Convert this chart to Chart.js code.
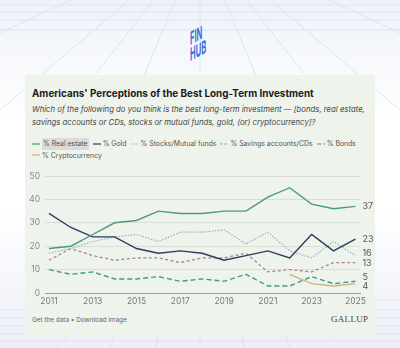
<!DOCTYPE html>
<html><head><meta charset="utf-8">
<script src="https://cdn.jsdelivr.net/npm/chart.js@4"></script>
<style>
html,body{margin:0;padding:0;}
body{width:400px;height:348px;position:relative;overflow:hidden;background:linear-gradient(180deg,#eef2f8 0%,#ffffff 35%,#ffffff 60%,#eceff8 100%);font-family:Inter,"Noto Sans",sans-serif;}
#bg{position:absolute;left:0;top:0;}
#logo{position:absolute;left:182px;top:8px;width:36px;height:54px;}
#panel{position:absolute;left:25px;top:75px;width:350px;height:260px;background:#eef3ec;}
#title{position:absolute;left:32px;top:87px;font-size:9.9px;font-weight:700;color:#1b1b1b;white-space:nowrap;}
#sub{position:absolute;left:32px;top:103px;width:340px;font-size:7.75px;font-style:italic;color:#444;line-height:13px;}
#legend{position:absolute;left:32px;top:138px;width:335px;display:flex;flex-wrap:wrap;column-gap:4px;row-gap:0;}
.leg{font-size:6.9px;line-height:11.5px;color:#555;white-space:nowrap;display:flex;align-items:center;}
.leg svg{margin-right:2px;}
#foot{position:absolute;left:32px;top:316px;font-size:6.4px;color:#666;}
#gallup{position:absolute;left:331px;top:314px;font-family:"Liberation Serif","DejaVu Serif",serif;font-size:9px;color:#444;letter-spacing:0.3px;}
#wrap{position:absolute;left:25px;top:165px;width:350px;height:145px;}
</style></head>
<body>
<svg id="bg" width="400" height="348">
  <g stroke="#d9e0ee" stroke-width="0.8" fill="none">
    <line x1="200" y1="-60" x2="-80" y2="70"/><line x1="200" y1="-60" x2="0" y2="110"/>
    <line x1="200" y1="-60" x2="60" y2="120"/><line x1="200" y1="-60" x2="130" y2="110"/>
    <line x1="200" y1="-60" x2="200" y2="100"/><line x1="200" y1="-60" x2="270" y2="110"/>
    <line x1="200" y1="-60" x2="340" y2="120"/><line x1="200" y1="-60" x2="400" y2="110"/>
    <line x1="200" y1="-60" x2="480" y2="70"/>
    <line x1="0" y1="5" x2="400" y2="5"/><line x1="0" y1="12" x2="400" y2="12"/>
    <line x1="0" y1="20" x2="400" y2="20"/><line x1="0" y1="30" x2="400" y2="30"/>
    <line x1="0" y1="310" x2="25" y2="310"/><line x1="0" y1="318" x2="25" y2="318"/>
    <line x1="0" y1="326" x2="25" y2="326"/><line x1="0" y1="334" x2="400" y2="334"/>
    <line x1="0" y1="341" x2="400" y2="341"/><line x1="375" y1="300" x2="400" y2="300"/>
    <line x1="375" y1="310" x2="400" y2="310"/><line x1="375" y1="318" x2="400" y2="318"/>
    <line x1="375" y1="326" x2="400" y2="326"/>
    <line x1="70" y1="335" x2="55" y2="348"/><line x1="115" y1="335" x2="110" y2="348"/>
    <line x1="158" y1="335" x2="156" y2="348"/><line x1="200" y1="335" x2="200" y2="348"/>
    <line x1="242" y1="335" x2="244" y2="348"/><line x1="285" y1="335" x2="290" y2="348"/>
    <line x1="330" y1="335" x2="345" y2="348"/>
  </g>
</svg>
<svg id="logo" viewBox="0 0 36 54">
  <g fill="#3a6fd9" font-family="Inter,'DejaVu Sans',sans-serif" font-weight="700">
    <text x="0" y="0" font-size="18" transform="translate(8,37) skewY(-28) scale(0.42,1)">FIN</text>
    <text x="0" y="0" font-size="18" transform="translate(8,53) skewY(-28) scale(0.42,1)">HUB</text>
  </g>
</svg>
<div id="panel"></div>
<div id="title">Americans' Perceptions of the Best Long-Term Investment</div>
<div id="sub">Which of the following do you think is the best long-term investment — [bonds, real estate, savings accounts or CDs, stocks or mutual funds, gold, (or) cryptocurrency]?</div>
<div id="legend"></div>
<div id="wrap"><canvas id="c"></canvas></div>
<div id="foot">Get the data • Download image</div>
<div id="gallup">GALLUP</div>
<script>
const years = [2011,2012,2013,2014,2015,2016,2017,2018,2019,2020,2021,2022,2023,2024,2025];
const realEstate = [19,20,25,30,31,35,34,34,35,35,41,45,38,36,37];
const gold       = [34,28,24,24,19,17,18,17,14,16,18,15,25,18,23];
const stocks     = [17,19,22,24,25,22,26,26,27,21,26,18,15,22,16];
const savings    = [14,19,16,14,15,15,13,15,15,17,9,10,9,13,13];
const bonds      = [10,8,9,6,6,7,5,6,5,8,3,3,7,4,5];
const crypto     = [null,null,null,null,null,null,null,null,null,null,null,8,4,3,4];
const yTicks = [0,10,20,30,40,50];
const xTicks = [2011,2013,2015,2017,2019,2021,2023,2025];

const series = [
  {label:'% Real estate', data:realEstate, color:'#4e9a74', dash:[], w:1.4, end:'37'},
  {label:'% Gold', data:gold, color:'#2d3c5e', dash:[], w:1.4, end:'23'},
  {label:'% Stocks/Mutual funds', data:stocks, color:'#8fb3c4', dash:[1.5,1.5], w:1.2, end:'16'},
  {label:'% Savings accounts/CDs', data:savings, color:'#a9848c', dash:[3,2.5], w:1.3, end:'13'},
  {label:'% Bonds', data:bonds, color:'#3f9c8a', dash:[5,3], w:1.4, end:'5'},
  {label:'% Cryptocurrency', data:crypto, color:'#cdb37a', dash:[], w:1.3, end:'4'}
];

const legEl = document.getElementById('legend');
series.forEach((s,i)=>{
  const d = document.createElement('div');
  d.className='leg';
  const dash = s.dash.length ? `stroke-dasharray="${s.dash.map(v=>v*0.8).join(',')}"` : '';
  d.innerHTML = `<svg width="8" height="6"><line x1="0" y1="3" x2="8" y2="3" stroke="${s.color}" stroke-width="1.2" ${dash}/></svg><span${i===0?' style="background:#d9dcd8;padding:0 1px"':''}>${s.label}</span>`;
  legEl.appendChild(d);
  if(i===4){ const br=document.createElement('div'); br.style.flexBasis='100%'; br.style.height='0'; legEl.appendChild(br); }
});

const endLabels = {
  id:'endLabels',
  afterDatasetsDraw(chart){
    const ctx = chart.ctx;
    const xs = chart.scales.x, ys = chart.scales.y;
    ctx.save();
    ctx.font = '9px Inter, "Noto Sans", sans-serif';
    ctx.fillStyle = '#555';
    ctx.textBaseline = 'middle';
    const offs = [0,0,-2.5,1,-4,3];
    chart.data.datasets.forEach((ds,i)=>{
      const last = ds.data[ds.data.length-1];
      ctx.fillText(series[i].end, xs.getPixelForValue(last.x)+7, ys.getPixelForValue(last.y)+offs[i]);
    });
    ctx.restore();
  }
};

new Chart(document.getElementById('c'), {
  type:'line',
  data:{
    datasets: series.map(s=>({
      label:s.label,
      data: years.map((y,i)=>({x:y, y:s.data[i]})).filter(p=>p.y!==null),
      borderColor:s.color, backgroundColor:s.color,
      borderDash:s.dash, borderWidth:s.w, pointRadius:0, tension:0, fill:false
    }))
  },
  options:{
    responsive:true, maintainAspectRatio:false, animation:false,
    layout:{padding:{top:11,right:15,left:0,bottom:0}},
    plugins:{legend:{display:false}, tooltip:{enabled:false}},
    scales:{
      x:{type:'linear', min:2010.82, max:2025.21,
        afterBuildTicks(s){ s.ticks = xTicks.map(v=>({value:v})); },
        afterFit(s){ s.height = 17; },
        grid:{display:false, drawTicks:false},
        border:{display:true, color:'#9a9f9a', width:1},
        ticks:{color:'#777', font:{size:8.5, family:'Inter, "Noto Sans", sans-serif'}, padding:3, maxRotation:0,
          callback:v=>String(v)}
      },
      y:{min:0, max:50,
        afterBuildTicks(s){ s.ticks = yTicks.map(v=>({value:v})); },
        afterFit(s){ s.width = 20; },
        grid:{color:'#d8e0d6', lineWidth:1, drawTicks:false},
        border:{display:false},
        ticks:{color:'#888', font:{size:8.5, family:'Inter, "Noto Sans", sans-serif'}, padding:5}
      }
    }
  },
  plugins:[endLabels]
});
</script>
</body></html>
